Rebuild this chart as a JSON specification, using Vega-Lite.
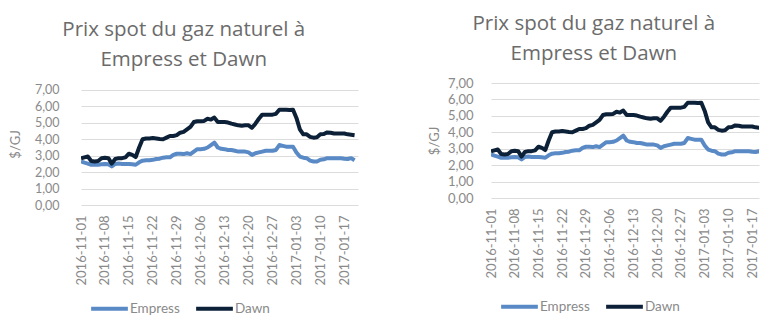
{
  "$schema": "https://vega.github.io/schema/vega-lite/v6.json",
  "padding": {"left": 9, "top": 13, "right": 0, "bottom": 0},
  "spacing": 70,
  "background": "white",
  "config": {
    "view": {"stroke": null},
    "font": "Lato",
    "title": {"font": "Open Sans", "fontSize": 20.5, "fontWeight": "normal", "color": "#6b6b6b", "anchor": "middle", "frame": "bounds", "lineHeight": 30},
    "axis": {"labelFont": "Lato", "titleFont": "Lato", "labelColor": "#8a8a8a", "titleColor": "#8a8a8a", "labelFontSize": 12.5, "titleFontSize": 13, "titleFontWeight": "normal", "ticks": false, "domain": false, "gridColor": "#dcdcdc", "gridWidth": 1},
    "legend": {"labelFont": "Lato", "labelFontSize": 13.5, "labelColor": "#8a8a8a", "symbolType": "stroke", "symbolStrokeWidth": 4, "symbolSize": 1350, "orient": "none", "direction": "horizontal", "title": null, "labelOffset": 0, "columnPadding": 8, "padding": 0}
  },
  "datasets": {
    "gas": [
      {"date": "2016-11-01", "Empress": 2.65, "Dawn": 2.84},
      {"date": "2016-11-02", "Empress": 2.58, "Dawn": 2.9},
      {"date": "2016-11-03", "Empress": 2.52, "Dawn": 2.95},
      {"date": "2016-11-04", "Empress": 2.45, "Dawn": 2.68},
      {"date": "2016-11-05", "Empress": 2.45, "Dawn": 2.65},
      {"date": "2016-11-06", "Empress": 2.45, "Dawn": 2.68},
      {"date": "2016-11-07", "Empress": 2.48, "Dawn": 2.85},
      {"date": "2016-11-08", "Empress": 2.5, "Dawn": 2.88},
      {"date": "2016-11-09", "Empress": 2.48, "Dawn": 2.85},
      {"date": "2016-11-10", "Empress": 2.35, "Dawn": 2.52},
      {"date": "2016-11-11", "Empress": 2.5, "Dawn": 2.8},
      {"date": "2016-11-12", "Empress": 2.52, "Dawn": 2.85},
      {"date": "2016-11-13", "Empress": 2.5, "Dawn": 2.85},
      {"date": "2016-11-14", "Empress": 2.5, "Dawn": 2.9},
      {"date": "2016-11-15", "Empress": 2.5, "Dawn": 3.12},
      {"date": "2016-11-16", "Empress": 2.48, "Dawn": 3.05},
      {"date": "2016-11-17", "Empress": 2.45, "Dawn": 2.92},
      {"date": "2016-11-18", "Empress": 2.6, "Dawn": 3.5},
      {"date": "2016-11-19", "Empress": 2.7, "Dawn": 4.0},
      {"date": "2016-11-20", "Empress": 2.72, "Dawn": 4.05},
      {"date": "2016-11-21", "Empress": 2.72, "Dawn": 4.05},
      {"date": "2016-11-22", "Empress": 2.75, "Dawn": 4.08},
      {"date": "2016-11-23", "Empress": 2.8, "Dawn": 4.05},
      {"date": "2016-11-24", "Empress": 2.82, "Dawn": 4.02},
      {"date": "2016-11-25", "Empress": 2.88, "Dawn": 4.0},
      {"date": "2016-11-26", "Empress": 2.9, "Dawn": 4.1},
      {"date": "2016-11-27", "Empress": 2.9, "Dawn": 4.2},
      {"date": "2016-11-28", "Empress": 3.05, "Dawn": 4.2},
      {"date": "2016-11-29", "Empress": 3.12, "Dawn": 4.25},
      {"date": "2016-11-30", "Empress": 3.12, "Dawn": 4.4},
      {"date": "2016-12-01", "Empress": 3.1, "Dawn": 4.45},
      {"date": "2016-12-02", "Empress": 3.15, "Dawn": 4.6},
      {"date": "2016-12-03", "Empress": 3.1, "Dawn": 4.75},
      {"date": "2016-12-04", "Empress": 3.25, "Dawn": 5.05},
      {"date": "2016-12-05", "Empress": 3.4, "Dawn": 5.1},
      {"date": "2016-12-06", "Empress": 3.4, "Dawn": 5.1},
      {"date": "2016-12-07", "Empress": 3.42, "Dawn": 5.12},
      {"date": "2016-12-08", "Empress": 3.5, "Dawn": 5.25},
      {"date": "2016-12-09", "Empress": 3.65, "Dawn": 5.2},
      {"date": "2016-12-10", "Empress": 3.8, "Dawn": 5.32},
      {"date": "2016-12-11", "Empress": 3.5, "Dawn": 5.05},
      {"date": "2016-12-12", "Empress": 3.42, "Dawn": 5.05},
      {"date": "2016-12-13", "Empress": 3.4, "Dawn": 5.05},
      {"date": "2016-12-14", "Empress": 3.35, "Dawn": 5.02},
      {"date": "2016-12-15", "Empress": 3.35, "Dawn": 4.95},
      {"date": "2016-12-16", "Empress": 3.3, "Dawn": 4.9},
      {"date": "2016-12-17", "Empress": 3.25, "Dawn": 4.85},
      {"date": "2016-12-18", "Empress": 3.25, "Dawn": 4.82},
      {"date": "2016-12-19", "Empress": 3.25, "Dawn": 4.85},
      {"date": "2016-12-20", "Empress": 3.2, "Dawn": 4.85},
      {"date": "2016-12-21", "Empress": 3.05, "Dawn": 4.7},
      {"date": "2016-12-22", "Empress": 3.15, "Dawn": 4.95},
      {"date": "2016-12-23", "Empress": 3.2, "Dawn": 5.25},
      {"date": "2016-12-24", "Empress": 3.25, "Dawn": 5.5},
      {"date": "2016-12-25", "Empress": 3.3, "Dawn": 5.5},
      {"date": "2016-12-26", "Empress": 3.3, "Dawn": 5.5},
      {"date": "2016-12-27", "Empress": 3.3, "Dawn": 5.5},
      {"date": "2016-12-28", "Empress": 3.35, "Dawn": 5.55},
      {"date": "2016-12-29", "Empress": 3.65, "Dawn": 5.8},
      {"date": "2016-12-30", "Empress": 3.6, "Dawn": 5.8},
      {"date": "2016-12-31", "Empress": 3.55, "Dawn": 5.8},
      {"date": "2017-01-01", "Empress": 3.55, "Dawn": 5.78},
      {"date": "2017-01-02", "Empress": 3.55, "Dawn": 5.8},
      {"date": "2017-01-03", "Empress": 3.2, "Dawn": 5.3},
      {"date": "2017-01-04", "Empress": 2.95, "Dawn": 4.6},
      {"date": "2017-01-05", "Empress": 2.88, "Dawn": 4.3},
      {"date": "2017-01-06", "Empress": 2.85, "Dawn": 4.3},
      {"date": "2017-01-07", "Empress": 2.7, "Dawn": 4.15},
      {"date": "2017-01-08", "Empress": 2.65, "Dawn": 4.1},
      {"date": "2017-01-09", "Empress": 2.65, "Dawn": 4.12},
      {"date": "2017-01-10", "Empress": 2.75, "Dawn": 4.3},
      {"date": "2017-01-11", "Empress": 2.78, "Dawn": 4.32},
      {"date": "2017-01-12", "Empress": 2.85, "Dawn": 4.42},
      {"date": "2017-01-13", "Empress": 2.85, "Dawn": 4.4},
      {"date": "2017-01-14", "Empress": 2.85, "Dawn": 4.35},
      {"date": "2017-01-15", "Empress": 2.85, "Dawn": 4.35},
      {"date": "2017-01-16", "Empress": 2.85, "Dawn": 4.35},
      {"date": "2017-01-17", "Empress": 2.82, "Dawn": 4.35},
      {"date": "2017-01-18", "Empress": 2.8, "Dawn": 4.3},
      {"date": "2017-01-19", "Empress": 2.85, "Dawn": 4.28},
      {"date": "2017-01-20", "Empress": 2.72, "Dawn": 4.25}
    ]
  },
  "hconcat": [
    {
      "title": {"text": ["Prix spot du gaz naturel à", "Empress et Dawn"], "offset": 13},
      "width": 277,
      "height": 122,
      "data": {"name": "gas"},
      "transform": [{"fold": ["Empress", "Dawn"], "as": ["serie", "value"]}],
      "mark": {"type": "line", "strokeWidth": 4, "strokeJoin": "round", "clip": true},
      "encoding": {
        "x": {
          "field": "date", "type": "temporal",
          "scale": {"type": "utc", "domain": [{"year": 2016, "month": 11, "date": 1, "utc": true}, {"year": 2017, "month": 1, "date": 21, "utc": true}]},
          "axis": {
            "title": null, "grid": false, "format": "%Y-%m-%d", "labelAngle": -90, "labelPadding": 10, "labelFontSize": 13,
            "values": [
              {"year": 2016, "month": 11, "date": 1, "utc": true},
              {"year": 2016, "month": 11, "date": 8, "utc": true},
              {"year": 2016, "month": 11, "date": 15, "utc": true},
              {"year": 2016, "month": 11, "date": 22, "utc": true},
              {"year": 2016, "month": 11, "date": 29, "utc": true},
              {"year": 2016, "month": 12, "date": 6, "utc": true},
              {"year": 2016, "month": 12, "date": 13, "utc": true},
              {"year": 2016, "month": 12, "date": 20, "utc": true},
              {"year": 2016, "month": 12, "date": 27, "utc": true},
              {"year": 2017, "month": 1, "date": 3, "utc": true},
              {"year": 2017, "month": 1, "date": 10, "utc": true},
              {"year": 2017, "month": 1, "date": 17, "utc": true}
            ]
          }
        },
        "y": {
          "field": "value", "type": "quantitative",
          "scale": {"domain": [0, 7.426], "nice": false},
          "axis": {"title": "$/GJ", "values": [0, 1, 2, 3, 4, 5, 6, 7], "labelExpr": "replace(format(datum.value, '.2f'), '.', ',')", "labelPadding": 22, "titlePadding": 12}
        },
        "color": {
          "field": "serie", "type": "nominal",
          "scale": {"domain": ["Empress", "Dawn"], "range": ["#5a8ac6", "#0c2138"]},
          "legend": {"legendX": 8, "legendY": 205}
        }
      }
    },
    {
      "title": {"text": ["Prix spot du gaz naturel à", "Empress et Dawn"], "offset": 13},
      "width": 268,
      "height": 115,
      "data": {"name": "gas"},
      "transform": [{"fold": ["Empress", "Dawn"], "as": ["serie", "value"]}],
      "mark": {"type": "line", "strokeWidth": 4, "strokeJoin": "round", "clip": true},
      "encoding": {
        "x": {
          "field": "date", "type": "temporal",
          "scale": {"type": "utc", "domain": [{"year": 2016, "month": 11, "date": 1, "utc": true}, {"year": 2017, "month": 1, "date": 19, "utc": true}]},
          "axis": {
            "title": null, "grid": false, "format": "%Y-%m-%d", "labelAngle": -90, "labelPadding": 10, "labelFontSize": 13,
            "values": [
              {"year": 2016, "month": 11, "date": 1, "utc": true},
              {"year": 2016, "month": 11, "date": 8, "utc": true},
              {"year": 2016, "month": 11, "date": 15, "utc": true},
              {"year": 2016, "month": 11, "date": 22, "utc": true},
              {"year": 2016, "month": 11, "date": 29, "utc": true},
              {"year": 2016, "month": 12, "date": 6, "utc": true},
              {"year": 2016, "month": 12, "date": 13, "utc": true},
              {"year": 2016, "month": 12, "date": 20, "utc": true},
              {"year": 2016, "month": 12, "date": 27, "utc": true},
              {"year": 2017, "month": 1, "date": 3, "utc": true},
              {"year": 2017, "month": 1, "date": 10, "utc": true},
              {"year": 2017, "month": 1, "date": 17, "utc": true}
            ]
          }
        },
        "y": {
          "field": "value", "type": "quantitative",
          "scale": {"domain": [0, 7], "nice": false},
          "axis": {"title": "$/GJ", "values": [0, 1, 2, 3, 4, 5, 6, 7], "labelExpr": "replace(format(datum.value, '.2f'), '.', ',')", "labelPadding": 18, "titlePadding": 6, "labelFontSize": 13}
        },
        "color": {
          "field": "serie", "type": "nominal",
          "scale": {"domain": ["Empress", "Dawn"], "range": ["#5a8ac6", "#0c2138"]},
          "legend": {"legendX": 8, "legendY": 203}
        }
      }
    }
  ],
  "resolve": {"scale": {"x": "independent", "y": "independent", "color": "shared"}, "legend": {"color": "independent"}}
}
